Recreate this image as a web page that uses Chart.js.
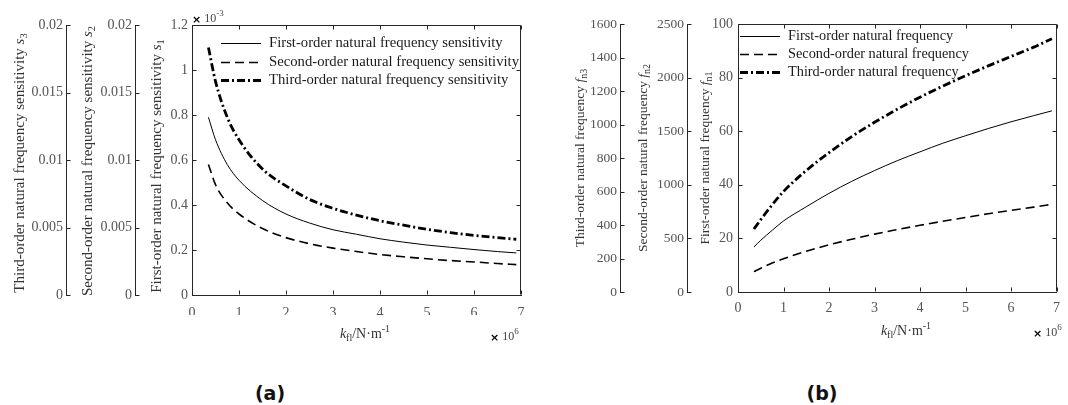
<!DOCTYPE html>
<html>
<head>
<meta charset="utf-8">
<script src="https://cdn.jsdelivr.net/npm/chart.js@4.4.0/dist/chart.umd.min.js"></script>
<style>
  body { margin: 0; background: #fff; width: 1068px; height: 405px; position: relative; overflow: hidden; }
  .panel { position: absolute; top: 0; height: 350px; }
  #wrapA { left: 0; width: 540px; }
  #wrapB { left: 560px; width: 508px; }
  .tag { position: absolute; font: bold 19px 'DejaVu Sans', sans-serif; color: #111; transform: translate(-50%, -50%); }
</style>
</head>
<body>
<div class="panel" id="wrapA"><canvas id="chartA"></canvas></div>
<div class="panel" id="wrapB"><canvas id="chartB"></canvas></div>
<div class="tag" style="left:270px; top:393px">(a)</div>
<div class="tag" style="left:822px; top:393px">(b)</div>

<script>
// stiffness k_fl (x 10^6 N/m)
const kfl = [0.35, 0.5, 0.75, 1, 1.5, 2, 2.5, 3, 3.5, 4, 4.5, 5, 5.5, 6, 6.5, 6.9];

// (a) sensitivities, each in the units of its own axis
const sens1 = [0.79, 0.69, 0.58, 0.51, 0.42, 0.36, 0.32, 0.29, 0.27, 0.25, 0.235, 0.222, 0.212, 0.202, 0.193, 0.187]; // x 10^-3
const sens2 = [0.00967, 0.00817, 0.00683, 0.0060, 0.00492, 0.00425, 0.0038, 0.00347, 0.00322, 0.0030, 0.00283, 0.00268, 0.00255, 0.00245, 0.00233, 0.00225];
const sens3 = [0.01833, 0.01583, 0.01317, 0.0115, 0.00933, 0.00808, 0.00708, 0.00642, 0.00592, 0.0055, 0.00517, 0.00487, 0.00462, 0.00442, 0.00425, 0.00413];

// (b) natural frequencies, each in the units of its own axis
const freq1 = [16.8, 19.3, 23, 26.5, 31.8, 36.8, 41.3, 45.3, 49, 52.3, 55.5, 58.3, 61, 63.5, 65.8, 67.6];
const freq2 = [190, 222, 270, 310, 380, 440, 492, 540, 582, 622, 660, 695, 730, 762, 792, 818];
const freq3 = [376, 432, 520, 600, 725, 832, 928, 1013, 1091, 1163, 1229, 1291, 1350, 1406, 1462, 1512];

// axis ranges [min, max, step]
const xRange = [0, 7, 1];
const s1Range = [0, 1.2, 0.2];
const s2Range = [0, 0.02, 0.005];
const s3Range = [0, 0.02, 0.005];
const f1Range = [0, 100, 20];
const f2Range = [0, 2500, 500];
const f3Range = [0, 1600, 200];

const SERIF = "'Liberation Serif', 'Times New Roman', serif";
const TICK_COLOR = '#555';
const AXIS_COLOR = '#262626';

const pts = ys => kfl.map((x, i) => ({ x: x, y: ys[i] }));
const fmt = v => String(+Number(v).toFixed(4));

function richText(ctx, parts, x, y, rotate, align) {
  ctx.save();
  ctx.translate(x, y);
  if (rotate) ctx.rotate(-Math.PI / 2);
  let w = 0;
  parts.forEach(p => { ctx.font = p[1]; w += ctx.measureText(p[0]).width; });
  let cx = align === 'left' ? 0 : -w / 2;
  ctx.textBaseline = 'middle';
  ctx.textAlign = 'left';
  parts.forEach(p => {
    ctx.font = p[1];
    ctx.fillStyle = p[3] || '#333';
    ctx.fillText(p[0], cx, p[2] || 0);
    cx += ctx.measureText(p[0]).width;
  });
  ctx.restore();
}

// matlab-like box, inward ticks, titles and legend
const matlabAxes = {
  id: 'matlabAxes',
  afterDraw(chart, args, o) {
    const ctx = chart.ctx;
    const ca = chart.chartArea;
    const L = Math.round(ca.left) + 0.5, R = Math.round(ca.right) - 0.5;
    const T = Math.round(ca.top) + 0.5, B = Math.round(ca.bottom) - 0.5;
    ctx.save();
    ctx.strokeStyle = AXIS_COLOR;
    ctx.lineWidth = 1;
    ctx.setLineDash([]);
    ctx.beginPath();
    ctx.moveTo(L, T); ctx.lineTo(R, T); ctx.lineTo(R, B);
    const xs = chart.scales.x;
    xs.ticks.forEach(t => {
      const px = Math.round(xs.getPixelForValue(t.value)) + 0.5;
      ctx.moveTo(px, B); ctx.lineTo(px, B - 4);
      ctx.moveTo(px, T); ctx.lineTo(px, T + 4);
    });
    o.yAxes.forEach(id => {
      const s = chart.scales[id];
      const ax = Math.round(s.right) + 0.5;
      s.ticks.forEach(t => {
        const py = Math.round(s.getPixelForValue(t.value)) + 0.5;
        ctx.moveTo(ax, py); ctx.lineTo(ax + 4, py);
        if (id === 'y') { ctx.moveTo(R, py); ctx.lineTo(R - 4, py); }
      });
    });
    ctx.stroke();
    ctx.restore();

    const cy = (ca.top + ca.bottom) / 2;
    o.titles.forEach(t => richText(ctx, t.parts, t.x, cy + (t.dy || 0), true));
    o.extras.forEach(t => richText(ctx, t.parts, t.x, t.y, false, t.align));

    // legend
    const lg = o.legend;
    chart.data.datasets.forEach((ds, i) => {
      const y = Math.round(lg.y + i * lg.dy) + 0.5;
      ctx.save();
      ctx.strokeStyle = ds.borderColor;
      ctx.lineWidth = ds.borderWidth;
      ctx.setLineDash(ds.borderDash || []);
      ctx.beginPath();
      ctx.moveTo(lg.x, y); ctx.lineTo(lg.x + lg.len, y);
      ctx.stroke();
      ctx.font = lg.size + 'px ' + SERIF;
      ctx.fillStyle = '#1a1a1a';
      ctx.textBaseline = 'middle';
      ctx.fillText(ds.label, lg.x + lg.len + lg.gap, y);
      ctx.restore();
    });
  }
};

function yAxis(range, weight, width, pad, size) {
  return {
    type: 'linear', position: 'left', weight: weight,
    min: range[0], max: range[1],
    ticks: { stepSize: range[2], callback: fmt, padding: pad, color: TICK_COLOR, font: { family: SERIF, size: size } },
    grid: { display: false, drawTicks: false },
    border: { display: true, color: AXIS_COLOR, width: 1 },
    afterFit: s => { s.width = width; }
  };
}

function xAxis(pad, size) {
  return {
    type: 'linear', position: 'bottom',
    min: xRange[0], max: xRange[1],
    ticks: { stepSize: xRange[2], callback: fmt, padding: pad, color: TICK_COLOR, font: { family: SERIF, size: size } },
    grid: { display: false, drawTicks: false },
    border: { display: true, color: AXIS_COLOR, width: 1 },
    afterFit: s => { s.height = 20; }
  };
}

function line(label, data, axis, width, dash) {
  return {
    label: label, data: data, yAxisID: axis,
    borderColor: '#000', borderWidth: width, borderDash: dash,
    pointRadius: 0, fill: false, cubicInterpolationMode: 'monotone'
  };
}

const R15 = '15px ' + SERIF, I15 = 'italic 15px ' + SERIF, S11 = '10.5px ' + SERIF;
const R13 = '13.5px ' + SERIF, I13 = 'italic 13.5px ' + SERIF, S10 = '10px ' + SERIF;
const xTitle = [['k', 'italic 14px ' + SERIF, 0], ['fl', S10, 4], ['/N·m', '14px ' + SERIF, 0], ['-1', S10, -5]];
const times = exp => [['×', 'bold 11px DejaVu Sans', 1, '#000'], [' 10', '12px ' + SERIF, 0, '#444'], [exp, '9px ' + SERIF, -5, '#444']];

new Chart(document.getElementById('chartA'), {
  type: 'line',
  data: {
    datasets: [
      line('First-order natural frequency sensitivity', pts(sens1), 'y', 1, []),
      line('Second-order natural frequency sensitivity', pts(sens2), 's2', 1.6, [9, 5]),
      line('Third-order natural frequency sensitivity', pts(sens3), 's3', 2.8, [8, 3, 2, 3])
    ]
  },
  options: {
    responsive: true, maintainAspectRatio: false, animation: false,
    layout: { padding: { left: 0, right: 19, top: 25, bottom: 35 } },
    scales: {
      x: xAxis(10, 14),
      y: yAxis(s1Range, 0, 57, 4, 14),
      s2: yAxis(s2Range, 1, 69, 3, 14),
      s3: yAxis(s3Range, 2, 66, 3, 14)
    },
    plugins: {
      legend: { display: false },
      tooltip: { enabled: false },
      matlabAxes: {
        yAxes: ['y', 's2', 's3'],
        titles: [
          { x: 20, dy: 3, parts: [['Third-order natural frequency sensitivity ', R15], ['s', I15], ['3', S11, 4]] },
          { x: 88, dy: 1, parts: [['Second-order natural frequency sensitivity ', R15], ['s', I15], ['2', S11, 4]] },
          { x: 157, dy: 6, parts: [['First-order natural frequency sensitivity ', R15], ['s', I15], ['1', S11, 4]] }
        ],
        extras: [
          { x: 365, y: 334, parts: xTitle },
          { x: 490, y: 337, align: 'left', parts: times('6') },
          { x: 192, y: 19, align: 'left', parts: times('-3') }
        ],
        legend: { x: 221, y: 43, dy: 18.5, len: 40, gap: 8, size: 14.7 }
      }
    }
  },
  plugins: [matlabAxes]
});

new Chart(document.getElementById('chartB'), {
  type: 'line',
  data: {
    datasets: [
      line('First-order natural frequency', pts(freq1), 'y', 1, []),
      line('Second-order natural frequency', pts(freq2), 'f2', 1.6, [9, 5]),
      line('Third-order natural frequency', pts(freq3), 'f3', 2.8, [8, 3, 2, 3])
    ]
  },
  options: {
    responsive: true, maintainAspectRatio: false, animation: false,
    layout: { padding: { left: 0, right: 6, top: 24, bottom: 38 } },
    scales: {
      x: xAxis(8, 14),
      y: yAxis(f1Range, 0, 51, 5, 14),
      f2: yAxis(f2Range, 1, 67, 3, 13.5),
      f3: yAxis(f3Range, 2, 60, 3, 13.5)
    },
    plugins: {
      legend: { display: false },
      tooltip: { enabled: false },
      matlabAxes: {
        yAxes: ['y', 'f2', 'f3'],
        titles: [
          { x: 20, parts: [['Third-order natural frequency ', R13], ['f', I13], ['n3', S10, 4]] },
          { x: 83, parts: [['Second-order natural frequency ', R13], ['f', I13], ['n2', S10, 4]] },
          { x: 145, parts: [['First-order natural frequency ', R13], ['f', I13], ['n1', S10, 4]] }
        ],
        extras: [
          { x: 346, y: 331, parts: xTitle },
          { x: 473, y: 333, align: 'left', parts: times('6') }
        ],
        legend: { x: 180, y: 36, dy: 18, len: 40, gap: 8, size: 14.3 }
      }
    }
  },
  plugins: [matlabAxes]
});
</script>
</body>
</html>
